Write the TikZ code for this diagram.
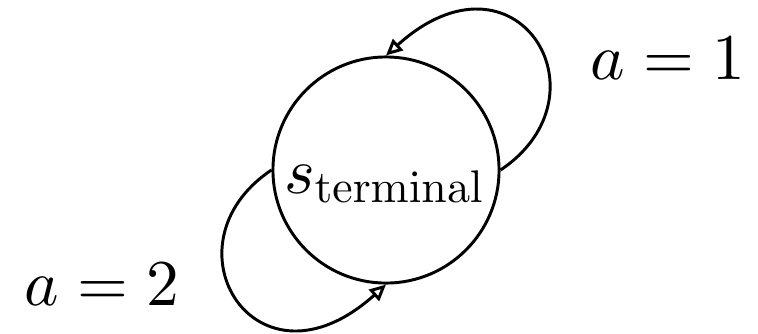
\documentclass[tikz,border=0pt]{standalone}
\usetikzlibrary{arrows.meta}
\begin{document}
\begin{tikzpicture}[x=0.153pt,y=-0.153pt,
  statebox/.style={draw,circle,line width=0.45pt,minimum size=34.6pt,inner sep=0pt},
  arr/.style={line width=0.45pt,-{Triangle[open,length=2.5pt,width=2.3pt]}},
  lbl/.style={inner sep=0pt,anchor=base}]
\useasboundingbox (0,0) rectangle (758,333);
\node[statebox] (s) at (386,170) {};
\node[lbl] (st) at (385,193) {$s_{\scalebox{0.7}{$\mathrm{terminal}$}}$};
\draw[arr] (s.east) .. controls +(112,-75) and +(130,-117) .. (s.north);
\draw[arr] (s.west) .. controls +(-112,75) and +(-130,117) .. (s.south);
\node[lbl] (a1) at (668,79) {$a=1$};
\node[lbl] (a2) at (102,305) {$a=2$};
\end{tikzpicture}
\end{document}
